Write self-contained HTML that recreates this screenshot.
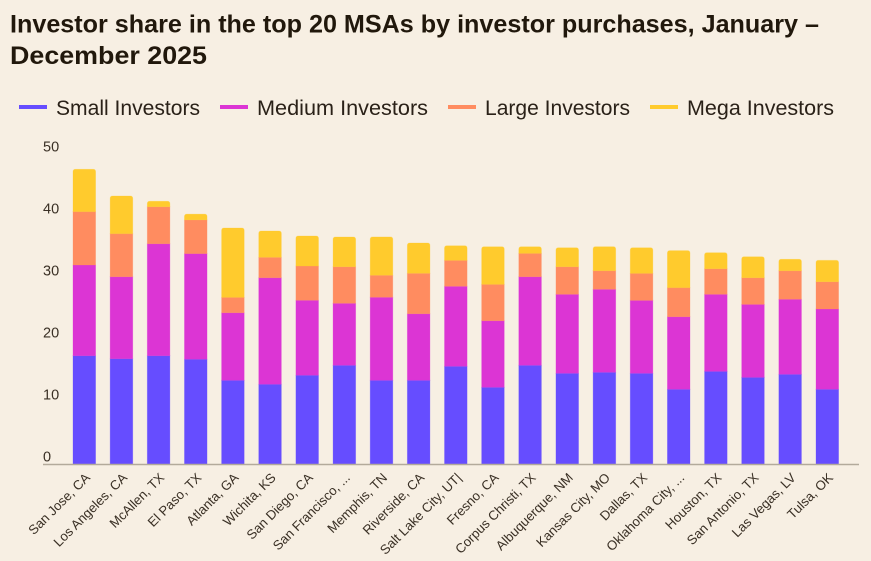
<!DOCTYPE html>
<html>
<head>
<meta charset="utf-8">
<style>
html,body{margin:0;padding:0;background:#f7efe3;}
svg{display:block;font-family:"Liberation Sans",sans-serif;}
</style>
</head>
<body>
<svg id="chart" width="871" height="561" viewBox="0 0 871 561" xmlns="http://www.w3.org/2000/svg">
  <rect width="871" height="561" fill="#f7efe3"/>
  <g fill="#21180c" font-weight="700" font-size="25">
    <text x="10" y="32.5" textLength="809" lengthAdjust="spacingAndGlyphs">Investor share in the top 20 MSAs by investor purchases, January –</text>
    <text x="10" y="64" textLength="197" lengthAdjust="spacingAndGlyphs">December 2025</text>
  </g>
  <g id="legend"></g>
  <g id="y-axis"></g>
  <g id="bars"></g>
  <line x1="43" x2="859" y1="464.5" y2="464.5" stroke="#b3aa9b" stroke-width="1.6"/>
  <g id="x-axis"></g>
</svg>
<script>
const categories = ["San Jose, CA","Los Angeles, CA","McAllen, TX","El Paso, TX","Atlanta, GA","Wichita, KS","San Diego, CA","San Francisco, ...","Memphis, TN","Riverside, CA","Salt Lake City, UT|","Fresno, CA","Corpus Christi, TX","Albuquerque, NM","Kansas City, MO","Dallas, TX","Oklahoma City, ...","Houston, TX","San Antonio, TX","Las Vegas, LV","Tulsa, OK"];
const smallInvestors = [17.55,17.06,17.55,16.97,13.58,12.94,14.39,16.0,13.58,13.58,15.84,12.45,16.0,14.71,14.87,14.71,12.13,15.03,14.06,14.55,12.13];
const mediumInvestors = [14.63,13.23,18.06,17.05,10.9,17.19,12.1,10.0,13.39,10.74,12.9,10.74,14.29,12.74,13.39,11.77,11.71,12.42,11.77,12.1,12.95];
const largeInvestors = [8.6,6.94,5.97,5.44,2.48,3.29,5.53,5.9,3.55,6.52,4.19,5.87,3.77,4.45,3.0,4.35,4.68,4.13,4.29,4.61,4.4];
const megaInvestors = [6.84,6.08,0.87,0.92,11.18,4.24,4.84,4.79,6.18,4.89,2.35,6.06,1.06,3.06,3.87,4.13,5.97,2.58,3.39,1.84,3.45];
const yTicks = [0,10,20,30,40,50];
const seriesNames = ["Small Investors","Medium Investors","Large Investors","Mega Investors"];

const NS = "http://www.w3.org/2000/svg";
const seriesValues = [smallInvestors, mediumInvestors, largeInvestors, megaInvestors];
const seriesSlugs = ["small","medium","large","mega"];
const seriesColors = ["#664dff","#dc35d4","#ff8c60","#ffcb2d"];
const legendLineX = [19,220,448,650];
const legendTextX = [56,257,485,687];
const legendTextLen = [144,171,145,147];

function yScale(v){ return 464.5 - v * 6.2; }
function xScale(i){ return 73 + i * 37.15; }
const barWidth = 22.6;

function make(tag, attrs, parent){
  const el = document.createElementNS(NS, tag);
  for (const k in attrs) el.setAttribute(k, attrs[k]);
  parent.appendChild(el);
  return el;
}

const legend = document.getElementById("legend");
seriesNames.forEach(function(name, s){
  const line = make("line", {x1:legendLineX[s], x2:legendLineX[s]+28, y1:107, y2:107, stroke:seriesColors[s], "stroke-width":4}, legend);
  
  
  const label = make("text", {x:legendTextX[s], y:115, "font-size":21.5, fill:"#2a2118", textLength:legendTextLen[s], lengthAdjust:"spacingAndGlyphs"}, legend);
  
  
  label.textContent = name;
});

const yAxis = document.getElementById("y-axis");
yTicks.forEach(function(t){
  const label = make("text", {x:43, y:yScale(t) - 2.8, "font-size":14.5, fill:"#3a3025"}, yAxis);
  
  
  label.textContent = String(t);
});

const barsGroup = document.getElementById("bars");
categories.forEach(function(cat, i){
  const g = make("g", {}, barsGroup);
  
  
  let cum = 0;
  seriesValues.forEach(function(vals, s){
    const y0 = yScale(cum);
    cum += vals[i];
    const y1 = yScale(cum);
    const x = xScale(i), w = barWidth;
    let d;
    if (s === seriesValues.length - 1) {
      const r = Math.min(2.5, (y0 - y1));
      d = "M"+x+" "+y0+"V"+(y1+r)+"Q"+x+" "+y1+" "+(x+r)+" "+y1+"H"+(x+w-r)+"Q"+(x+w)+" "+y1+" "+(x+w)+" "+(y1+r)+"V"+y0+"Z";
    } else {
      d = "M"+x+" "+y0+"V"+y1+"H"+(x+w)+"V"+y0+"Z";
    }
    const seg = make("path", {d:d, fill:seriesColors[s], stroke:seriesColors[s], "stroke-opacity":0.35, "stroke-width":0.8}, g);
    
    
  });
});

const xAxis = document.getElementById("x-axis");
categories.forEach(function(cat, i){
  const cx = xScale(i) + barWidth / 2 + 6.5;
  const cy = 478.5;
  const label = make("text", {x:cx, y:cy, "font-size":13.2, fill:"#3a3025", "text-anchor":"end", transform:"rotate(-45 "+cx+" "+cy+")"}, xAxis);
  
  
  label.textContent = cat;
});
</script>
</body>
</html>
